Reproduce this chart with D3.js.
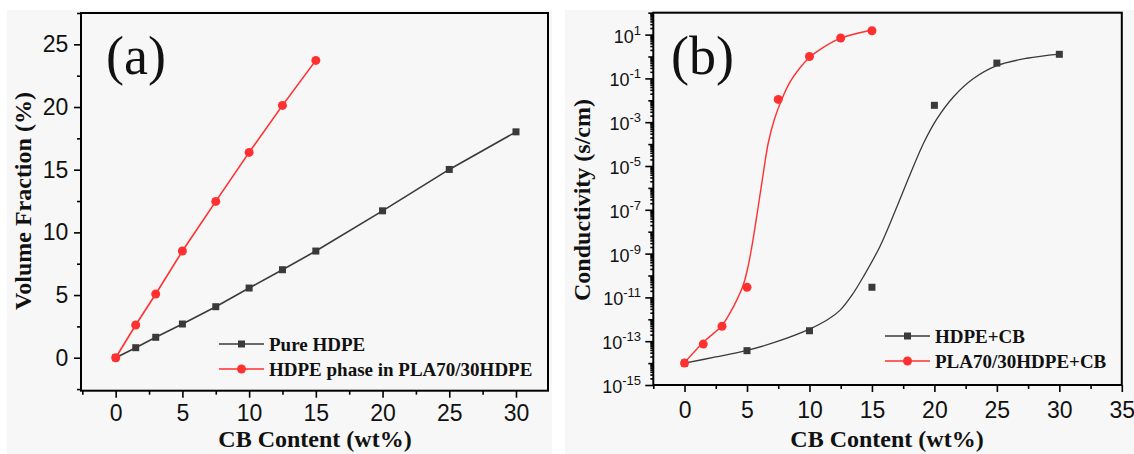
<!DOCTYPE html>
<html>
<head>
<meta charset="utf-8">
<script src="https://cdn.jsdelivr.net/npm/d3@7"></script>
<style>
  html, body { margin: 0; padding: 0; background: #fff; }
  svg { display: block; }
</style>
</head>
<body>
<svg id="chart" width="1134" height="454"></svg>
<script>
// ---- panel (a): volume fraction ----
const cbPure = [0, 1.5, 3, 5, 7.5, 10, 12.5, 15, 20, 25, 30];
const vfPure = [0, 0.8, 1.63, 2.69, 4.07, 5.56, 7.02, 8.51, 11.72, 15.02, 18.02];
const cbPhase = [0, 1.5, 3, 5, 7.5, 10, 12.5, 15];
const vfPhase = [0, 2.61, 5.08, 8.51, 12.47, 16.38, 20.13, 23.72];
const xTicksA = [0, 5, 10, 15, 20, 25, 30];
const yTicksA = [0, 5, 10, 15, 20, 25];
const legendA = ['Pure HDPE', 'HDPE phase in PLA70/30HDPE'];

// ---- panel (b): conductivity ----
const cbHdpe = [0, 5, 10, 15, 20, 25, 30];
const condHdpe = [1e-14, 3.7e-14, 3.0e-13, 2.9e-11, 5.9e-3, 0.5, 1.26];
const cbPla = [0, 1.5, 3, 5, 7.5, 10, 12.5, 15];
const condPla = [1e-14, 7.4e-14, 4.8e-13, 2.9e-11, 1.1e-2, 1.0, 7.0, 15];
// fitted curves (x, log10 of conductivity)
const fitHdpeX = [0, 2.5, 5, 7.5, 10, 11.5, 12.46, 13.4, 14.32, 15.66, 17, 18.06, 19.14, 20.2, 21.5, 23.1, 25, 27.4, 30];
const fitHdpeLog = [-14.0, -13.72, -13.42, -13.0, -12.45, -12.0, -11.58, -10.9, -10.05, -8.65, -6.86, -5.38, -3.95, -2.85, -1.86, -1.02, -0.42, -0.08, 0.11];
const fitPlaX = [0, 1.47, 3.02, 3.6, 4.2, 4.72, 5.1, 5.5, 5.9, 6.3, 6.7, 7.2, 7.79, 8.46, 9.2, 10, 11.2, 12.46, 15];
const fitPlaLog = [-13.98, -13.07, -12.27, -11.75, -11.1, -10.4, -9.55, -8.3, -6.85, -5.35, -3.95, -2.85, -1.95, -1.15, -0.55, -0.05, 0.45, 0.83, 1.21];
const xTicksB = [0, 5, 10, 15, 20, 25, 30, 35];
const yExpB = [1, -1, -3, -5, -7, -9, -11, -13, -15];
const legendB = ['HDPE+CB', 'PLA70/30HDPE+CB'];

const serif = '"Liberation Serif", "Times New Roman", serif';
const sans = '"Liberation Sans", Arial, sans-serif';
const BLACK = '#3a3a3a', RED = '#ff3030';

const svg = d3.select('#chart');

// panel backgrounds
svg.append('rect').attr('x', 7).attr('y', 10).attr('width', 545).attr('height', 444).attr('fill', '#f7f7f7');
svg.append('rect').attr('x', 565).attr('y', 10).attr('width', 569).attr('height', 444).attr('fill', '#f7f7f7');

const xA = d3.scaleLinear().domain([-2.6, 32.4]).range([81, 548]);
const yA = d3.scaleLinear().domain([-2.63, 27.5]).range([390.7, 13]);
const xB = d3.scaleLinear().domain([-2.5, 35]).range([653.3, 1121.8]);
const yB = d3.scaleLog().domain([1e-15, 1e2]).range([385, 12.7]);

function styleAxis(g) {
    g.select('.domain').remove();
    g.selectAll('.tick line').attr('stroke', '#000').attr('stroke-width', 1.6);
    g.selectAll('text').attr('fill', '#111').style('font-family', sans).style('font-size', '23px');
}

function frame(x, y) {
    const [x0, x1] = x.range();
    const [y0, y1] = y.range();
    svg.append('rect')
        .attr('x', x0).attr('y', y1).attr('width', x1 - x0).attr('height', y0 - y1)
        .attr('fill', 'none').attr('stroke', '#000').attr('stroke-width', 2);
}

function minorBetween(majors, step, domain) {
    const out = [];
    const lo = Math.min(...domain), hi = Math.max(...domain);
    for (let v = majors[0] - step; v >= lo; v -= 2 * step) out.push(v);
    majors.forEach(m => { if (m + step <= hi) out.push(m + step); });
    return out;
}

// ---------- panel (a) ----------
svg.append('g').attr('transform', `translate(0,${yA.range()[0]})`)
    .call(d3.axisBottom(xA).tickValues(minorBetween(xTicksA, 2.5, xA.domain())).tickSize(4).tickFormat(''))
    .call(styleAxis);
svg.append('g').attr('transform', `translate(0,${yA.range()[0]})`)
    .call(d3.axisBottom(xA).tickValues(xTicksA).tickSize(7).tickPadding(7.3))
    .call(styleAxis);
svg.append('g').attr('transform', `translate(${xA.range()[0]},0)`)
    .call(d3.axisLeft(yA).tickValues(minorBetween(yTicksA, 2.5, yA.domain())).tickSize(4).tickFormat(''))
    .call(styleAxis);
svg.append('g').attr('transform', `translate(${xA.range()[0]},0)`)
    .call(d3.axisLeft(yA).tickValues(yTicksA).tickSize(7).tickPadding(5.7))
    .call(styleAxis);

const lineA = d3.line().x(d => xA(d[0])).y(d => yA(d[1]));
const pureData = cbPure.map((c, i) => [c, vfPure[i]]);
const phaseData = cbPhase.map((c, i) => [c, vfPhase[i]]);

svg.append('path').datum(pureData).attr('d', lineA)
    .attr('fill', 'none').attr('stroke', BLACK).attr('stroke-width', 1.6);
svg.append('g').selectAll('rect').data(pureData).join('rect')
    .attr('x', d => xA(d[0]) - 3.5).attr('y', d => yA(d[1]) - 3.5)
    .attr('width', 7).attr('height', 7).attr('fill', BLACK);
svg.append('path').datum(phaseData).attr('d', lineA)
    .attr('fill', 'none').attr('stroke', RED).attr('stroke-width', 1.6);
svg.append('g').selectAll('circle').data(phaseData).join('circle')
    .attr('cx', d => xA(d[0])).attr('cy', d => yA(d[1])).attr('r', 4.5).attr('fill', RED);

frame(xA, yA);

svg.append('text').attr('x', 106).attr('y', 74).text('(a)')
    .style('font-family', serif).style('font-size', '54px').attr('fill', '#111');

svg.append('text').attr('x', 315).attr('y', 447).attr('text-anchor', 'middle')
    .text('CB Content (wt%)')
    .style('font-family', serif).style('font-weight', 'bold').style('font-size', '24px').attr('fill', '#111');
svg.append('text').attr('transform', 'translate(31,201) rotate(-90)').attr('text-anchor', 'middle')
    .text('Volume Fraction (%)')
    .style('font-family', serif).style('font-weight', 'bold').style('font-size', '24px').attr('fill', '#111');

function legend(x, y, labels, gap) {
    labels.forEach((label, i) => {
        const ly = y + i * gap;
        const col = i === 0 ? BLACK : RED;
        const g = svg.append('g');
        g.append('line').attr('x1', x).attr('x2', x + 45).attr('y1', ly).attr('y2', ly)
            .attr('stroke', col).attr('stroke-width', 1.5);
        if (i === 0) {
            g.append('rect').attr('x', x + 22.5 - 3.5).attr('y', ly - 3.5).attr('width', 7).attr('height', 7).attr('fill', col);
        } else {
            g.append('circle').attr('cx', x + 22.5).attr('cy', ly).attr('r', 4.5).attr('fill', col);
        }
        g.append('text').attr('x', x + 50).attr('y', ly + 7).text(label)
            .style('font-family', serif).style('font-weight', 'bold').style('font-size', '19px').attr('fill', '#111');
    });
}
legend(219, 344, legendA, 25);

// ---------- panel (b) ----------
svg.append('g').attr('transform', `translate(0,${yB.range()[0]})`)
    .call(d3.axisBottom(xB).tickValues(minorBetween(xTicksB, 2.5, xB.domain())).tickSize(4).tickFormat(''))
    .call(styleAxis);
svg.append('g').attr('transform', `translate(0,${yB.range()[0]})`)
    .call(d3.axisBottom(xB).tickValues(xTicksB).tickSize(7).tickPadding(9.5))
    .call(styleAxis);

// log ticks: sub-decade, every decade, labelled every second decade
const subTicks = [], decTicks = [];
for (let e = -15; e < 2; e++) {
    for (let k = 2; k <= 9; k++) subTicks.push(k * Math.pow(10, e));
}
for (let e = -14; e <= 2; e += 2) decTicks.push(Math.pow(10, e));
const majTicks = yExpB.map(e => Math.pow(10, e));

svg.append('g').attr('transform', `translate(${xB.range()[0]},0)`)
    .call(d3.axisLeft(yB).tickValues(subTicks).tickSize(3).tickFormat(''))
    .call(styleAxis);
svg.append('g').attr('transform', `translate(${xB.range()[0]},0)`)
    .call(d3.axisLeft(yB).tickValues(decTicks).tickSize(5).tickFormat(''))
    .call(styleAxis);
svg.append('g').attr('transform', `translate(${xB.range()[0]},0)`)
    .call(d3.axisLeft(yB).tickValues(majTicks).tickSize(8).tickFormat(''))
    .call(styleAxis);

const expLabels = svg.append('g');
yExpB.forEach(e => {
    const t = expLabels.append('text')
        .attr('x', 641).attr('y', yB(Math.pow(10, e)) + 8)
        .attr('text-anchor', 'end').attr('fill', '#111')
        .style('font-family', sans).style('font-size', '18px');
    t.append('tspan').text('10');
    t.append('tspan').attr('dy', -8).style('font-size', '13px').text(String(e));
});

// smooth fit curves (Catmull-Rom through the read-off points)
const lineB = d3.line().x(d => xB(d[0])).y(d => yB(d[1])).curve(d3.curveCatmullRom.alpha(0.5));
const fitHdpe = fitHdpeX.map((x, i) => [x, Math.pow(10, fitHdpeLog[i])]);
const fitPla = fitPlaX.map((x, i) => [x, Math.pow(10, fitPlaLog[i])]);
const hdpeData = cbHdpe.map((c, i) => [c, condHdpe[i]]);
const plaData = cbPla.map((c, i) => [c, condPla[i]]);

svg.append('path').datum(fitHdpe).attr('d', lineB)
    .attr('fill', 'none').attr('stroke', BLACK).attr('stroke-width', 1.3);
svg.append('path').datum(fitPla).attr('d', lineB)
    .attr('fill', 'none').attr('stroke', RED).attr('stroke-width', 1.4);
svg.append('g').selectAll('rect').data(hdpeData).join('rect')
    .attr('x', d => xB(d[0]) - 3.5).attr('y', d => yB(d[1]) - 3.5)
    .attr('width', 7).attr('height', 7).attr('fill', BLACK);
svg.append('g').selectAll('circle').data(plaData).join('circle')
    .attr('cx', d => xB(d[0])).attr('cy', d => yB(d[1])).attr('r', 4.5).attr('fill', RED);

frame(xB, yB);

svg.append('text').attr('x', 671).attr('y', 74).text('(b)')
    .style('font-family', serif).style('font-size', '54px').attr('fill', '#111');

svg.append('text').attr('x', 887).attr('y', 447).attr('text-anchor', 'middle')
    .text('CB Content (wt%)')
    .style('font-family', serif).style('font-weight', 'bold').style('font-size', '24px').attr('fill', '#111');
svg.append('text').attr('transform', 'translate(590,200) rotate(-90)').attr('text-anchor', 'middle')
    .text('Conductivity (s/cm)')
    .style('font-family', serif).style('font-weight', 'bold').style('font-size', '24px').attr('fill', '#111');

legend(885, 336, legendB, 25);
</script>
</body>
</html>
